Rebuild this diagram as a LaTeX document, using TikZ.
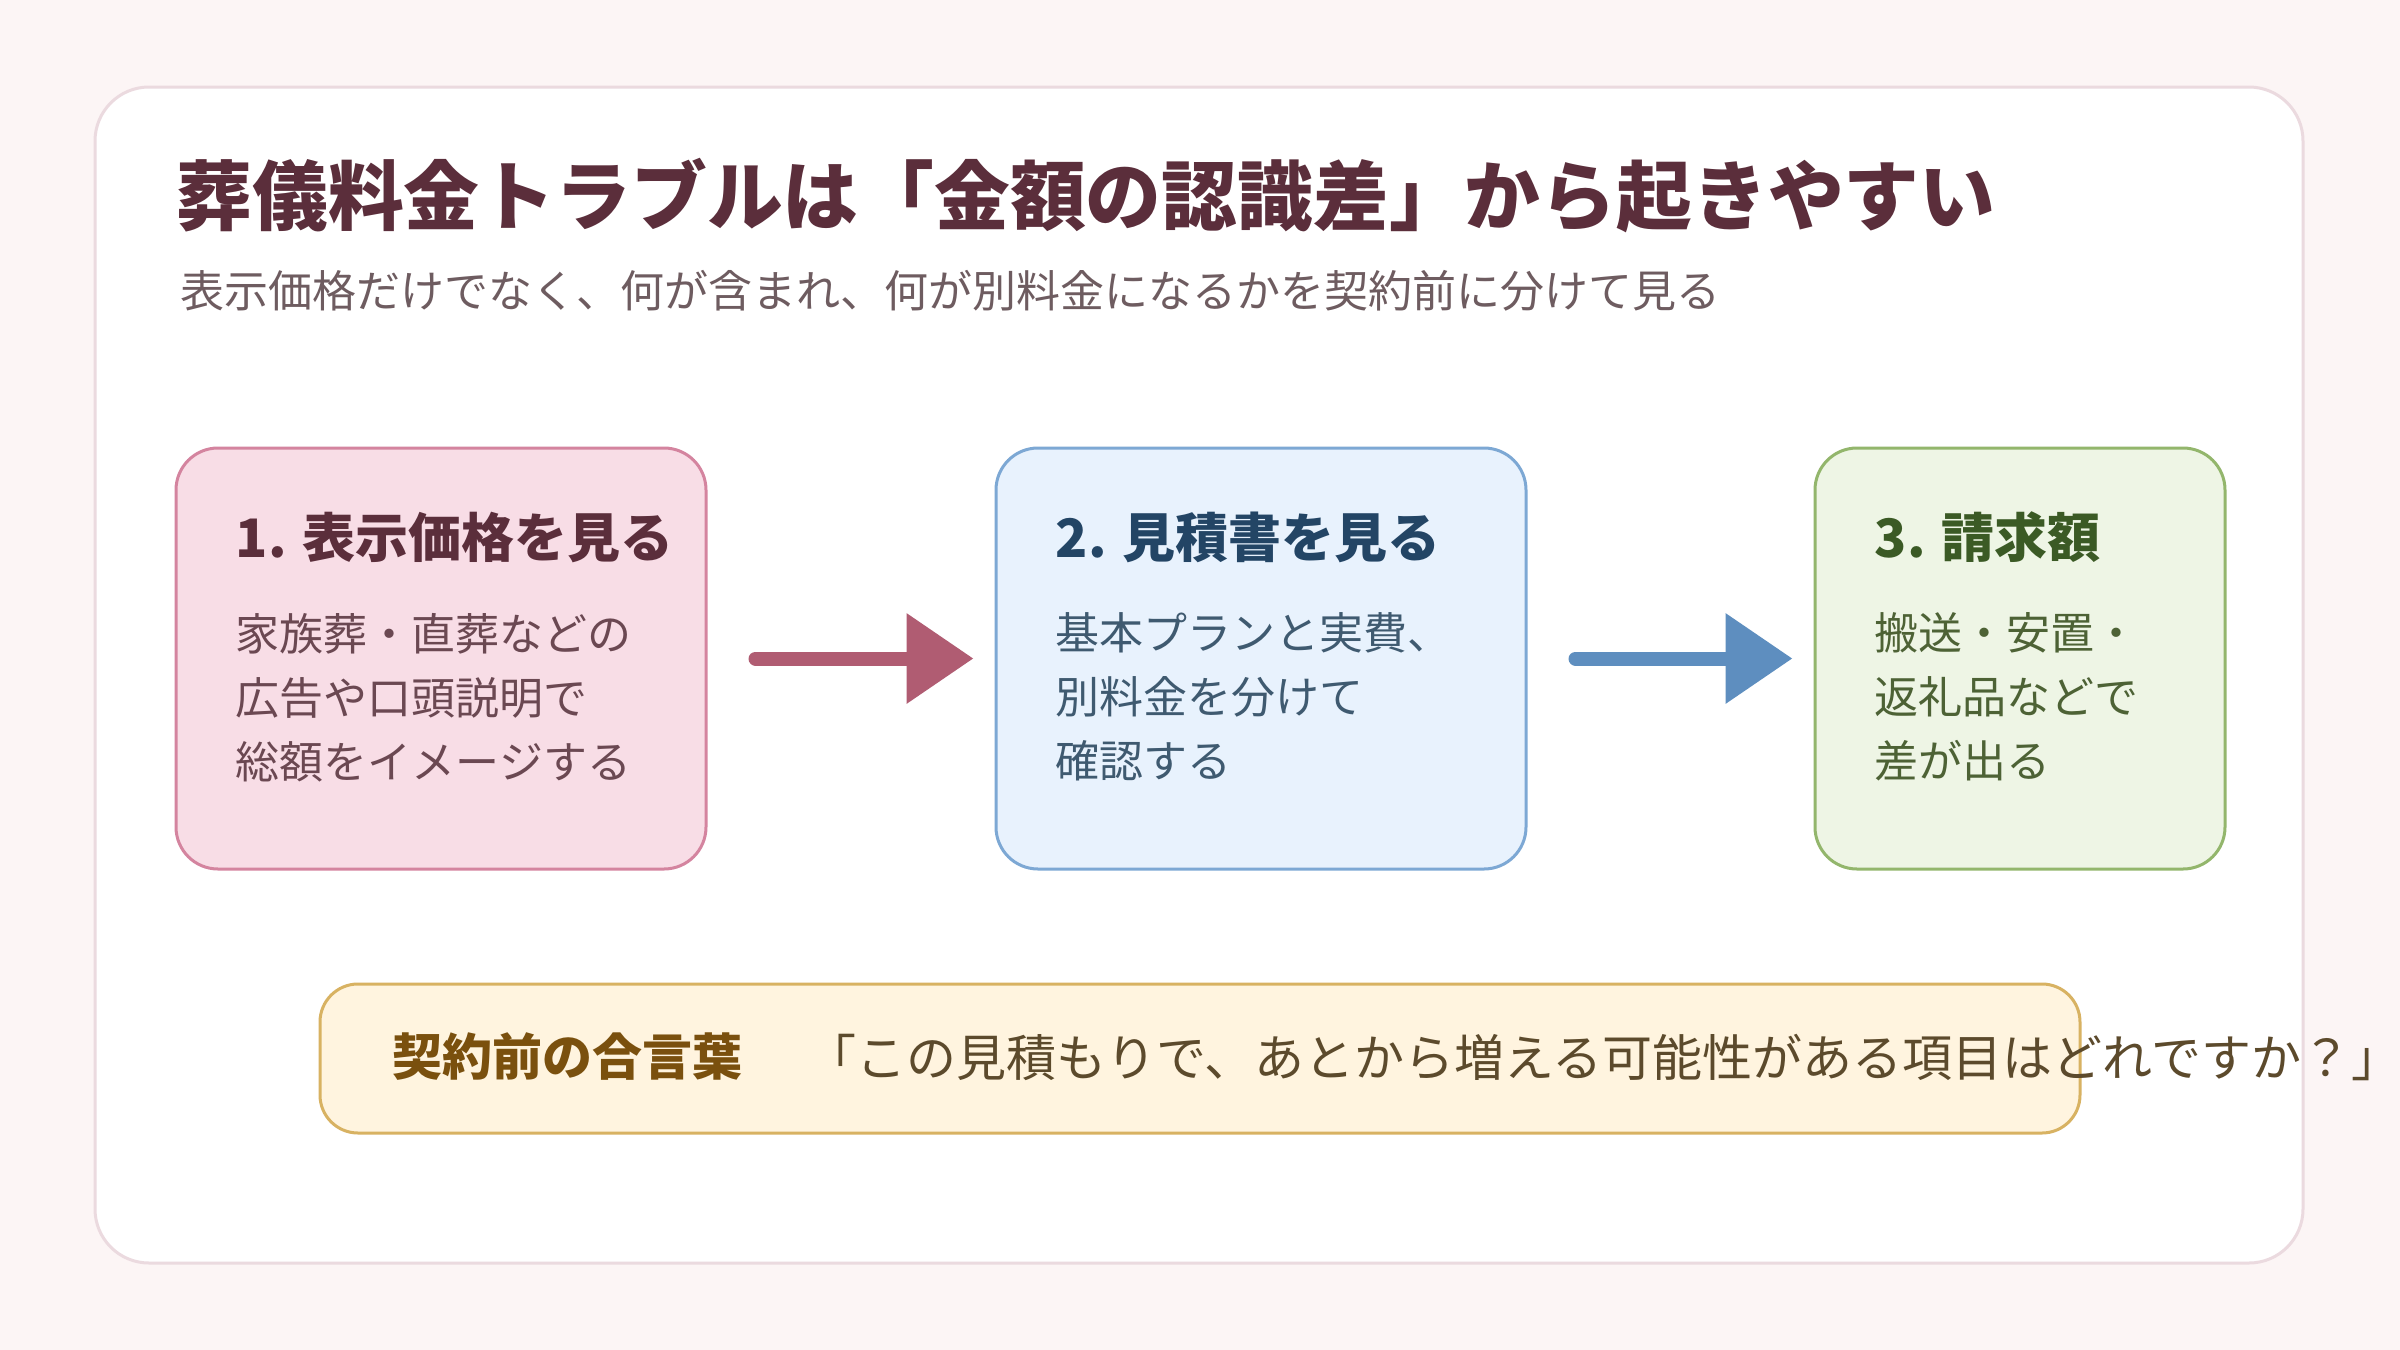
\documentclass[tikz,border=0pt]{standalone}
\usepackage{fontspec}
\setmainfont{Noto Sans CJK JP}
\usetikzlibrary{arrows.meta,calc,positioning}
\definecolor{bgpink}{HTML}{FCF5F5}
\definecolor{cardline}{HTML}{EBDADF}
\definecolor{titlecol}{HTML}{5B2E3B}
\definecolor{subcol}{HTML}{6E5C60}
\definecolor{pinkfill}{HTML}{F8DDE6}
\definecolor{pinkline}{HTML}{D4849F}
\definecolor{pinkbody}{HTML}{6B4852}
\definecolor{bluefill}{HTML}{E8F2FD}
\definecolor{blueline}{HTML}{7DA8D4}
\definecolor{bluehead}{HTML}{234565}
\definecolor{bluebody}{HTML}{3F5A70}
\definecolor{greenfill}{HTML}{EEF5E5}
\definecolor{greenline}{HTML}{93B66C}
\definecolor{greenhead}{HTML}{3B5A25}
\definecolor{greenbody}{HTML}{4D6235}
\definecolor{arrowpink}{HTML}{B05C72}
\definecolor{arrowblue}{HTML}{5E8EBF}
\definecolor{tipfill}{HTML}{FFF4DF}
\definecolor{tipline}{HTML}{D8B262}
\definecolor{tiphead}{HTML}{7A500E}
\definecolor{tipbody}{HTML}{5C4A2C}

\begin{document}
\begin{tikzpicture}[x=0.5pt,y=-0.5pt,
  card/.style={draw=cardline,line width=1.5pt,fill=white,rounded corners=27pt,minimum width=1104pt,minimum height=588pt},
  stepbox/.style={line width=1.5pt,rounded corners=21pt,minimum height=210.5pt},
  heading/.style={anchor=west,inner sep=0pt,font=\bfseries\fontsize{26.5pt}{32pt}\selectfont},
  body/.style={anchor=north west,inner sep=0pt,align=left,font=\fontsize{22pt}{32pt}\selectfont},
  flow/.style={line width=7pt,line cap=round,draw=#1,-{Triangle[length=33.5pt,width=43.5pt]},shorten <=24pt,shorten >=10.5pt}]
  \fill[bgpink] (0,0) rectangle (2400,1350);
  \useasboundingbox (0,0) rectangle (2400,1350);
  \node[card] (card) at (1199,675) {};
  \node[anchor=west,inner sep=0pt,text=titlecol,font=\bfseries\fontsize{37.9pt}{45pt}\selectfont] (title) at (176,196) {葬儀料金トラブルは「金額の認識差」から起きやすい};
  \node[anchor=west,inner sep=0pt,text=subcol,font=\fontsize{22pt}{28pt}\selectfont] (sub) at (180,291) {表示価格だけでなく、何が含まれ、何が別料金になるかを契約前に分けて見る};
  \node[stepbox,draw=pinkline,fill=pinkfill,minimum width=265pt] (b1) at (441,658.5) {};
  \node[stepbox,draw=blueline,fill=bluefill,minimum width=265pt] (b2) at (1261,658.5) {};
  \node[stepbox,draw=greenline,fill=greenfill,minimum width=205pt] (b3) at (2020,658.5) {};
  \node[heading,text=titlecol] (h1) at ($(b1.north west)+(61,91)$) {1. 表示価格を見る};
  \node[heading,text=bluehead] (h2) at ($(b2.north west)+(61,91)$) {2. 見積書を見る};
  \node[heading,text=greenhead] (h3) at ($(b3.north west)+(61,91)$) {3. 請求額};
  \node[body,text=pinkbody] (t1) at ($(b1.north west)+(61,166)$) {家族葬・直葬などの\\広告や口頭説明で\\総額をイメージする};
  \node[body,text=bluebody] (t2) at ($(b2.north west)+(61,166)$) {基本プランと実費、\\別料金を分けて\\確認する};
  \node[body,text=greenbody] (t3) at ($(b3.north west)+(61,166)$) {搬送・安置・\\返礼品などで\\差が出る};
  \draw[flow=arrowpink] (b1) -- (b2);
  \draw[flow=arrowblue] (b2) -- (b3);
  \node[draw=tipline,fill=tipfill,line width=1.5pt,rounded corners=19pt,minimum width=880pt,minimum height=74.5pt] (tip) at (1200,1058.5) {};
  \node[anchor=west,inner sep=0pt,text=tiphead,font=\bfseries\fontsize{25pt}{28pt}\selectfont] (tiplabel) at (392,1057) {契約前の合言葉};
  \node[anchor=west,inner sep=0pt,text=tipbody,font=\fontsize{25pt}{28pt}\selectfont] (tipquote) at (806,1057) {「この見積もりで、あとから増える可能性がある項目はどれですか？」};
\end{tikzpicture}
\end{document}
